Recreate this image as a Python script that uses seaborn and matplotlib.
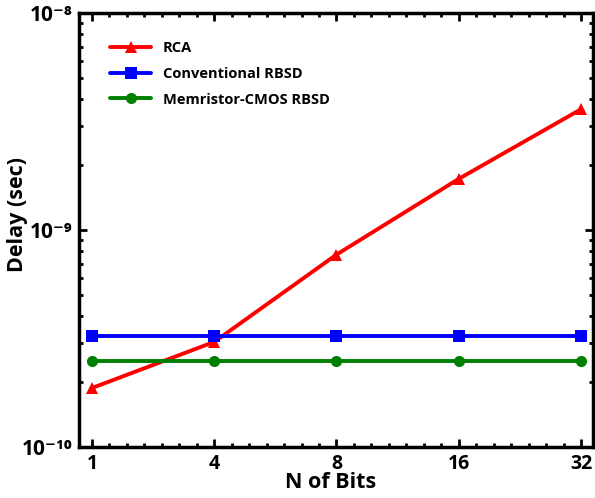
import matplotlib
matplotlib.use("Agg")
import matplotlib.pyplot as plt
import seaborn as sns
import pandas as pd
import numpy as np
from matplotlib.ticker import AutoMinorLocator, LogLocator, FixedLocator, NullFormatter, FuncFormatter

bits = ["1", "4", "8", "16", "32"]
rca = [1.87e-10, 3.05e-10, 7.7e-10, 1.72e-9, 3.6e-9]
conv = [3.25e-10, 3.25e-10, 3.25e-10, 3.25e-10, 3.25e-10]
memr = [2.5e-10, 2.5e-10, 2.5e-10, 2.5e-10, 2.5e-10]
series = ["RCA", "Conventional RBSD", "Memristor-CMOS RBSD"]
colors = ["#ff0000", "#0000ff", "#008000"]
markers = ["^", "s", "o"]

sns.set_style("ticks")
plt.rcParams["font.family"] = ["Open Sans", "DejaVu Sans"]
plt.rcParams["font.weight"] = "bold"
plt.rcParams["text.color"] = "black"
plt.rcParams["axes.labelcolor"] = "black"
plt.rcParams["xtick.color"] = "black"
plt.rcParams["ytick.color"] = "black"

pos = list(range(len(bits)))
df = pd.DataFrame({
    "pos": pos * 3,
    "delay": rca + conv + memr,
    "series": [series[0]] * 5 + [series[1]] * 5 + [series[2]] * 5,
})

fig = plt.figure(figsize=(5.95, 4.98), dpi=100)
ax = fig.add_axes([0.133, 0.1024, 0.864, 0.8716])

sns.lineplot(data=df, x="pos", y="delay", hue="series", style="series",
             palette=colors, markers=markers, dashes=False, ax=ax,
             linewidth=2.8, markersize=8, markeredgewidth=0)

ax.set_yscale("log")
ax.set_ylim(1e-10, 1e-8)
ax.set_xlim(-0.105, 4.1)
ax.set_xticks(pos)
ax.set_xticklabels(bits, fontsize=14, fontweight="bold")
ax.xaxis.set_minor_locator(AutoMinorLocator(7))
ax.yaxis.set_major_locator(FixedLocator([1e-10, 1e-9, 1e-8]))

sup = str.maketrans("-0123456789", "⁻⁰¹²³⁴⁵⁶⁷⁸⁹")
def fmt(v, p):
    e = int(round(np.log10(v)))
    return "10" + str(e).translate(sup)
ax.yaxis.set_major_formatter(FuncFormatter(fmt))
ax.yaxis.set_minor_locator(LogLocator(base=10, subs=np.arange(2, 10)))
ax.yaxis.set_minor_formatter(NullFormatter())

ax.tick_params(which="both", direction="in", top=True, right=True, width=2, colors="black")
ax.tick_params(which="major", length=6, pad=5)
ax.tick_params(axis="y", which="major", labelsize=15)
ax.tick_params(which="minor", length=3)
for lab in ax.get_yticklabels():
    lab.set_fontweight("bold")
for s in ax.spines.values():
    s.set_linewidth(2.5)
    s.set_color("black")

ax.set_xlabel("N of Bits", fontsize=15.5, fontweight="bold", color="black")
ax.set_ylabel("Delay (sec)", fontsize=15.5, fontweight="bold", color="black")
ax.yaxis.set_label_coords(-0.10, 0.535)
ax.xaxis.set_label_coords(0.49, -0.058)

leg = ax.legend(loc="upper left", bbox_to_anchor=(0.035, 0.965), frameon=False,
                fontsize=10.5, handlelength=2.8, labelspacing=0.8)
for t in leg.get_texts():
    t.set_fontweight("bold")
    t.set_color("black")

fig.savefig("out.png", dpi=100)
